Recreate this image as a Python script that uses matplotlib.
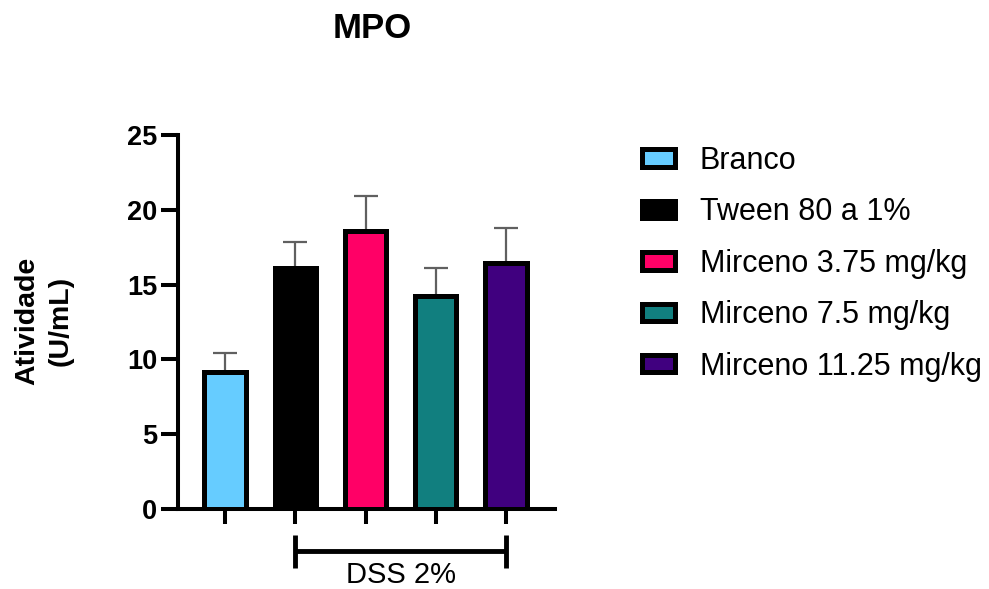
import matplotlib
matplotlib.use("Agg")
import matplotlib.pyplot as plt
import matplotlib.transforms as mtransforms
import numpy as np

plt.rcParams['font.family'] = ['Liberation Sans', 'DejaVu Sans']

groups = ["Branco", "Tween 80 a 1%", "Mirceno 3.75 mg/kg", "Mirceno 7.5 mg/kg", "Mirceno 11.25 mg/kg"]
means = [9.17, 16.1, 18.6, 14.27, 16.43]
sems = [1.28, 1.77, 2.3, 1.83, 2.33]
colors = ["#66CCFF", "#000000", "#FF0066", "#117F7F", "#40007F"]
yticks = [0, 5, 10, 15, 20, 25]
title = "MPO"
ylabel = "Atividade\n(U/mL)"
bracket_label = "DSS 2%"

W, H = 989, 589
fig = plt.figure(figsize=(W / 100, H / 100), dpi=100)

# axes in pixel coordinates
left_px, right_px, bottom_px, top_px = 178, 555, 509, 135
ax = fig.add_axes([left_px / W, 1 - bottom_px / H, (right_px - left_px) / W, (bottom_px - top_px) / H])

x = np.arange(len(groups))
px_per_unit = 70.25
x0_px = 225
ax.set_xlim((left_px - x0_px) / px_per_unit, (right_px - x0_px) / px_per_unit)
ax.set_ylim(0, 25)

lw_bar = 3.6
bars = ax.bar(x, means, width=0.59, color=colors, edgecolor="black", linewidth=lw_bar, zorder=3)
for b, lab in zip(bars, groups):
    b.set_label(lab)

ax.errorbar(x, means, yerr=[np.zeros(len(means)), sems], fmt="none", ecolor="#606060",
            elinewidth=1.6, capsize=8.6, capthick=1.6, zorder=2)

for s in ["top", "right"]:
    ax.spines[s].set_visible(False)
for s in ["left", "bottom"]:
    ax.spines[s].set_linewidth(2.9)
    ax.spines[s].set_capstyle("projecting")

ax.set_yticks(yticks)
ax.set_yticklabels([str(t) for t in yticks], fontsize=19.5, fontweight="bold")
ax.tick_params(axis="y", direction="out", length=12, width=2.9, pad=3)
ax.set_xticks(x)
ax.set_xticklabels([])
ax.tick_params(axis="x", direction="out", length=10.5, width=2.9)

# DSS bracket
trans = mtransforms.blended_transform_factory(ax.transData, ax.transAxes)
hpx = bottom_px - top_px
def yfrac(py):
    return (bottom_px - py) / hpx
ax.plot([1, 4], [yfrac(551), yfrac(551)], color="black", lw=3.5, transform=trans, clip_on=False, solid_capstyle="butt")
for xe in (1, 4):
    ax.plot([xe, xe], [yfrac(535), yfrac(568)], color="black", lw=3.5, transform=trans, clip_on=False, solid_capstyle="butt")
ax.text(2.5, yfrac(583), bracket_label, transform=trans, ha="center", va="baseline", fontsize=21)

fig.text(372 / W, 1 - 29 / H, title, ha="center", va="center", fontsize=25, fontweight="bold")
fig.text(44 / W, 1 - 321 / H, ylabel, ha="center", va="center", rotation=90, fontsize=20.5,
         fontweight="bold", multialignment="center", linespacing=1.35)

fig.legend(handles=list(bars), labels=groups, loc="upper left", bbox_to_anchor=(641.5 / W, 1 - 146 / H),
           frameon=False, fontsize=22, borderpad=0, borderaxespad=0, handlelength=1.08,
           handleheight=0.5, handletextpad=0.83, labelspacing=0.70)

fig.savefig("out.png", dpi=100)
